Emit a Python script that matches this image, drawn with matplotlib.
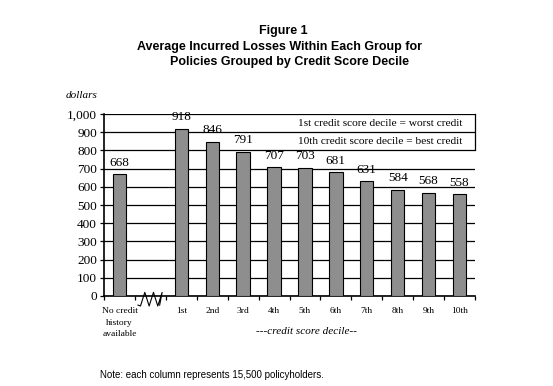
import matplotlib
matplotlib.use("Agg")
import matplotlib.pyplot as plt
from matplotlib.lines import Line2D

categories = ["No credit\nhistory\navailable", "", "1st", "2nd", "3rd", "4th", "5th",
              "6th", "7th", "8th", "9th", "10th"]
values = [668, None, 918, 846, 791, 707, 703, 681, 631, 584, 568, 558]
yticks = [0, 100, 200, 300, 400, 500, 600, 700, 800, 900, 1000]
ytick_labels = ["0", "100", "200", "300", "400", "500", "600", "700", "800", "900", "1,000"]
legend_lines = ["1st credit score decile = worst credit",
                "10th credit score decile = best credit"]

serif = ["Liberation Serif", "DejaVu Serif"]
sans = ["Liberation Sans", "DejaVu Sans"]

fig = plt.figure(figsize=(5.53, 3.86), dpi=100)
ax = fig.add_axes([104/553, 1-296/386, 371/553, 182/386])

xs = [i for i, v in enumerate(values) if v is not None]
vs = [v for v in values if v is not None]
ax.set_axisbelow(True)
ax.yaxis.grid(True, color="black", linewidth=0.9)
bars = ax.bar(xs, vs, width=0.43, color="#8e8e8e", edgecolor="black", linewidth=0.8, zorder=3)
for x, v in zip(xs, vs):
    ax.annotate(str(v), (x, v), xytext=(0, 4), textcoords="offset points",
                ha="center", va="bottom", fontsize=9.5, family=serif, annotation_clip=False)

ax.set_xlim(-0.5, 11.5)
ax.set_ylim(0, 1000)
ax.set_yticks(yticks)
ax.set_yticklabels(ytick_labels, family=serif, fontsize=9.5)
ax.tick_params(axis="y", length=3, width=0.9, pad=2)

ax.set_xticks(range(12))
ax.set_xticklabels(categories, family=serif, fontsize=6.8, linespacing=1.6, va="top")
ax.tick_params(axis="x", length=0, pad=8)
ax.set_xticks([i + 0.5 for i in range(-1, 12)], minor=True)
ax.tick_params(axis="x", which="minor", length=3, width=0.9, direction="out")

for s in ["top", "right"]:
    ax.spines[s].set_visible(False)
ax.spines["left"].set_linewidth(1.2)
ax.spines["bottom"].set_linewidth(1.2)

# legend box right edge (top region)
ax.plot([11.5, 11.5], [800, 1000], color="black", linewidth=0.9, clip_on=False, zorder=4)
ax.text(5.77, 950, legend_lines[0], family=serif, fontsize=8.2, va="center", ha="left")
ax.text(5.77, 850, legend_lines[1], family=serif, fontsize=8.2, va="center", ha="left")

# zigzag break mark
zx = [0.68, 0.82, 0.96, 1.10, 1.24, 1.38]
zy = [-55, 20, -55, 20, -55, 20]
ax.add_line(Line2D([0.60] + zx + [1.30], [-50] + zy[:] + [-50], color="black",
                   linewidth=0.8, clip_on=False))

fig.text(66/553, 1-96/386, "dollars", family=serif, style="italic", fontsize=8,
         ha="left", va="center")
fig.text(307/553, 1-331/386, "---credit score decile--", family=serif, style="italic",
         fontsize=8, ha="center", va="center")

fig.text(283/553, 1-31/386, "Figure 1", family=sans, weight="bold", fontsize=9,
         ha="center", va="center")
fig.text(279.5/553, 1-47/386, "Average Incurred Losses Within Each Group for", family=sans,
         weight="bold", fontsize=9, ha="center", va="center")
fig.text(289/553, 1-62/386, "Policies Grouped by Credit Score Decile", family=sans,
         weight="bold", fontsize=9, ha="center", va="center")

fig.text(100/553, 1-375/386, "Note: each column represents 15,500 policyholders.", family=sans,
         fontsize=7, ha="left", va="center")

fig.savefig("out.png", dpi=100)
